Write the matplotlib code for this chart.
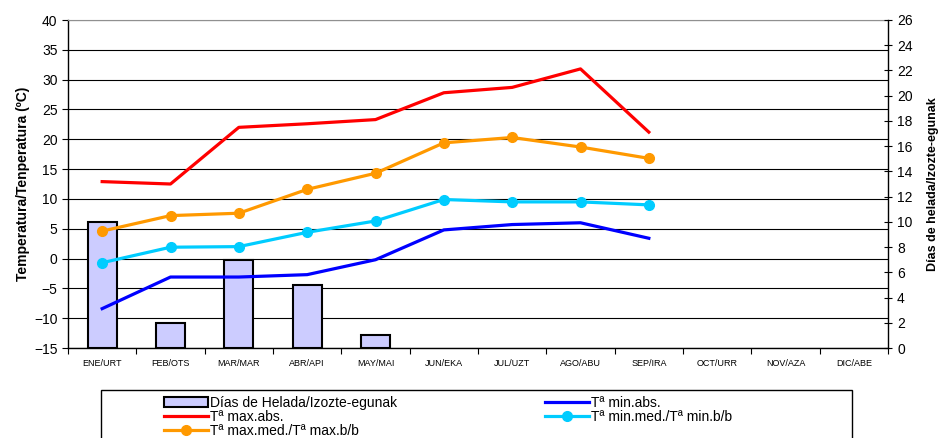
import numpy as np
import matplotlib
matplotlib.use('Agg')
import matplotlib.pyplot as plt
from matplotlib.patches import Rectangle

plt.rcParams['font.family'] = ['Liberation Sans', 'DejaVu Sans']

months = ['ENE/URT', 'FEB/OTS', 'MAR/MAR', 'ABR/API', 'MAY/MAI', 'JUN/EKA',
          'JUL/UZT', 'AGO/ABU', 'SEP/IRA', 'OCT/URR', 'NOV/AZA', 'DIC/ABE']

# frost days (right axis), only months with frost (Jan-May)
frost_days = [10, 2, 7, 5, 1]

# temperatures (left axis), Jan-Sep
t_max_abs = [12.9, 12.5, 22.0, 22.6, 23.3, 27.8, 28.7, 31.8, 21.2]
t_max_med = [4.6, 7.2, 7.6, 11.6, 14.3, 19.4, 20.3, 18.7, 16.8]
t_min_med = [-0.7, 1.9, 2.0, 4.4, 6.3, 9.9, 9.5, 9.5, 9.0]
t_min_abs = [-8.4, -3.1, -3.1, -2.7, -0.2, 4.8, 5.7, 6.0, 3.4]

x_all = np.arange(len(months))
x = np.arange(len(t_max_abs))
x_frost = np.arange(len(frost_days))

fig = plt.figure(figsize=(9.42, 4.38), dpi=100)
ax = fig.add_axes([68/942, 1 - 348/438, 820/942, 328/438])

# left axis: grid + ticks
ax.set_xlim(-0.5, 11.5)
ax.set_ylim(-15, 40)
ax.set_yticks(np.arange(-15, 41, 5))
ax.yaxis.grid(True, color='black', linewidth=0.8)
ax.set_axisbelow(True)
ax.tick_params(axis='y', labelsize=10, direction='out', length=4, width=0.8)
ax.set_ylabel('Temperatura/Tenperatura (ºC)', fontsize=10, fontweight='bold', labelpad=3)
ax.set_xticks(x_all)
ax.set_xticklabels(months, fontsize=6.5)
ax.set_xticks(np.arange(-0.5, 12, 1), minor=True)
ax.tick_params(axis='x', which='major', length=0, pad=8)
ax.tick_params(axis='x', which='minor', length=4, width=0.8, direction='out')
ax.spines['top'].set_color('#909090')
ax.spines['right'].set_visible(False)
for s in ['left', 'bottom']:
    ax.spines[s].set_linewidth(1.0)

# right axis: frost days bars
ax2 = ax.twinx()
ax2.set_ylim(0, 26)
ax2.set_yticks(np.arange(0, 27, 2))
ax2.tick_params(axis='y', labelsize=10, direction='inout', length=6, width=0.8)
bars = ax2.bar(x_frost, frost_days, width=0.42, color='#ccccff', edgecolor='black',
               linewidth=1.5, label='Días de Helada/Izozte-egunak')
ax2.set_ylabel('Días de helada/Izozte-egunak', fontsize=9, fontweight='bold', labelpad=10)
ax2.spines['right'].set_linewidth(1.0)
ax2.spines['top'].set_visible(False)
ax2.spines['left'].set_visible(False)
ax2.spines['bottom'].set_visible(False)

# lines on top, same scale as left axis
ax3 = ax.twinx()
ax3.set_ylim(-15, 40)
ax3.axis('off')
l_max_abs, = ax3.plot(x, t_max_abs, color='#ff0000', linewidth=2.3, label='Tª max.abs.')
l_max_med, = ax3.plot(x, t_max_med, color='#ff9900', linewidth=2.3, marker='o',
                      markersize=7, label='Tª max.med./Tª max.b/b')
l_min_abs, = ax3.plot(x, t_min_abs, color='#0000ff', linewidth=2.3, label='Tª min.abs.')
l_min_med, = ax3.plot(x, t_min_med, color='#00ccff', linewidth=2.3, marker='o',
                      markersize=7, label='Tª min.med./Tª min.b/b')

# legend box
fig.patches.append(Rectangle((101/942, -0.1), 751/942, 0.1 + 1 - 390/438,
                             transform=fig.transFigure, facecolor='white',
                             edgecolor='black', linewidth=1.0, clip_on=False))
handles = [bars, l_max_abs, l_max_med, l_min_abs, l_min_med]
fig.legend(handles, [h.get_label() for h in handles], ncol=2, frameon=False,
           loc='upper left', bbox_to_anchor=(154/942, 1 - 386/438),
           fontsize=10, handlelength=3.2, handletextpad=0.15,
           columnspacing=10.6, labelspacing=0.0, borderpad=0.2)

fig.savefig('out.png', dpi=100)
